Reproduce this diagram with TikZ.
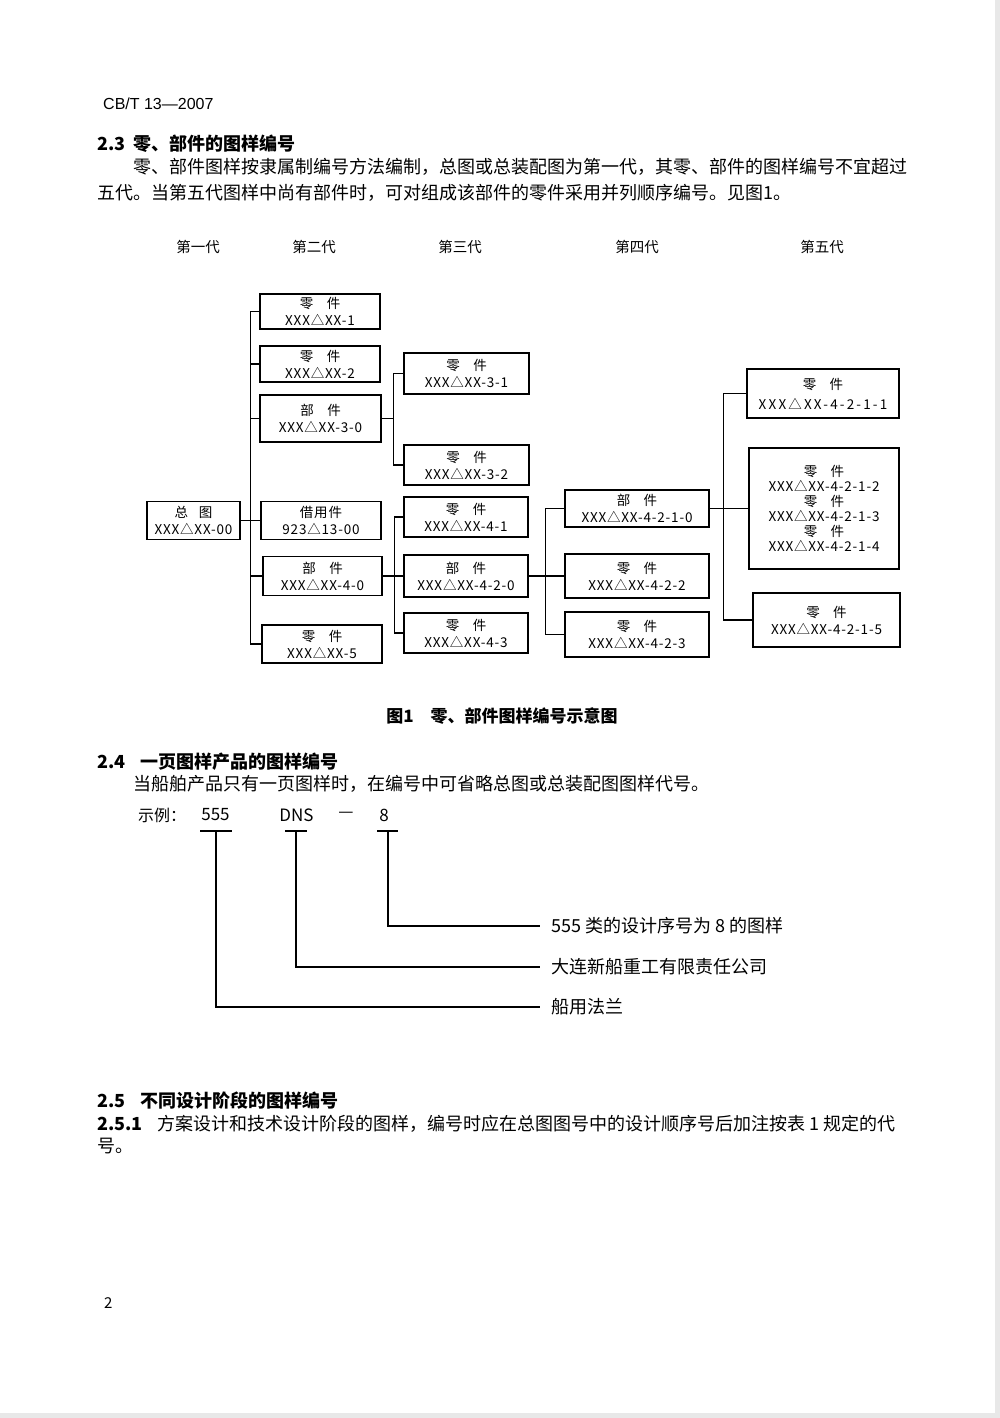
\documentclass[tikz,border=0pt]{standalone}
\usepackage{fontspec}
\setmainfont{Noto Sans CJK SC}
\newfontfamily\kuangfont{Noto Sans CJK SC}[LetterSpace=6]
\newfontfamily\kuanfont{Noto Sans CJK SC}[LetterSpace=16]
\newfontfamily\latinfont{Liberation Sans}

\begin{document}
\begin{tikzpicture}[x = 1pt, y = -1pt, kuang/.style = {draw,line width=1.2pt,align=center,inner sep=0pt,font=\kuangfont\fontsize{13.5}{17}\selectfont},zi/.style = {anchor=west,inner sep=0pt,font=\fontsize{18}{20}\selectfont},dai/.style = {inner sep=0pt,font=\fontsize{14.5}{16}\selectfont},biao/.style = {anchor=west,inner xsep=11pt,inner ysep=0pt,font=\fontsize{18}{20}\selectfont},]
		\useasboundingbox (0,0) rectangle (1000,1418);
		\fill[black!9] (995,0) rectangle (1000,1418);
		\fill[black!9] (0,1413) rectangle (1000,1418);
		
		% page head and 2.3
		\node[zi,font=\latinfont\fontsize{16}{18}\selectfont] (biaohao) at (103,104) {CB/T 13—2007};
		\node[zi,font=\bfseries\fontsize{18}{20}\selectfont] (h23) at (97,144) {2.3};
		\node[zi,font=\bfseries\fontsize{18}{20}\selectfont] (t23) at (133,144) {零、部件的图样编号};
		\node[zi] (p1) at (133,167) {零、部件图样按隶属制编号方法编制，总图或总装配图为第一代，其零、部件的图样编号不宜超过};
		\node[zi] (p2) at (97,193) {五代。当第五代图样中尚有部件时，可对组成该部件的零件采用并列顺序编号。见图1。};
		
		\node[dai] (d1) at (198,247) {第一代};
		\node[dai] (d2) at (314,247) {第二代};
		\node[dai] (d3) at (460,247) {第三代};
		\node[dai] (d4) at (637,247) {第四代};
		\node[dai] (d5) at (822,247) {第五代};
		
		\node[kuang,minimum width=93pt,minimum height=38pt] (zongtu) at (193.5,520.5) {总\hspace{0.8em}图\\XXX△XX-00};
		\node[kuang,minimum width=120pt,minimum height=35pt] (l1) at (320,311.5) {零\hspace{1em}件\\XXX△XX-1};
		\node[kuang,minimum width=120pt,minimum height=36pt] (l2) at (320,364) {零\hspace{1em}件\\XXX△XX-2};
		\node[kuang,minimum width=121pt,minimum height=47pt] (b30) at (320.5,418.5) {部\hspace{1em}件\\XXX△XX-3-0};
		\node[kuang,minimum width=120pt,minimum height=38pt] (jy) at (321,520.5) {借用件\\923△13-00};
		\node[kuang,minimum width=119pt,minimum height=39pt] (b40) at (322.5,576) {部\hspace{1em}件\\XXX△XX-4-0};
		\node[kuang,minimum width=120pt,minimum height=38pt] (l5) at (322,644) {零\hspace{1em}件\\XXX△XX-5};
		
		\node[kuang,minimum width=125pt,minimum height=41pt] (l31) at (466.5,373.5) {零\hspace{1em}件\\XXX△XX-3-1};
		\node[kuang,minimum width=125pt,minimum height=40pt] (l32) at (466.5,465) {零\hspace{1em}件\\XXX△XX-3-2};
		\node[kuang,minimum width=124pt,minimum height=40pt] (l41) at (466,517) {零\hspace{1em}件\\XXX△XX-4-1};
		\node[kuang,minimum width=124pt,minimum height=42pt] (b420) at (466,576) {部\hspace{1em}件\\XXX△XX-4-2-0};
		\node[kuang,minimum width=124pt,minimum height=40pt] (l43) at (466,633) {零\hspace{1em}件\\XXX△XX-4-3};
		
		\node[kuang,minimum width=144pt,minimum height=37pt] (b4210) at (637,508.5) {部\hspace{1em}件\\XXX△XX-4-2-1-0};
		\node[kuang,minimum width=144pt,minimum height=44pt] (l422) at (637,576) {零\hspace{1em}件\\XXX△XX-4-2-2};
		\node[kuang,minimum width=144pt,minimum height=45pt] (l423) at (637,634.5) {零\hspace{1em}件\\XXX△XX-4-2-3};
		
		\node[kuang,minimum width=152pt,minimum height=49pt,font=\kuanfont\fontsize{13.5}{17}\selectfont] (l4211) at (823,393.5) {零\hspace{1em}件\\[3pt]XXX△XX-4-2-1-1};
		\node[kuang,minimum width=150pt,minimum height=121pt,font=\kuangfont\fontsize{13.5}{15}\selectfont] (l4212) at (824,508.5) {零\hspace{1em}件\\XXX△XX-4-2-1-2\\零\hspace{1em}件\\XXX△XX-4-2-1-3\\零\hspace{1em}件\\XXX△XX-4-2-1-4};
		\node[kuang,minimum width=147pt,minimum height=54pt] (l4215) at (826.5,620) {零\hspace{1em}件\\XXX△XX-4-2-1-5};
		
		\draw[line width=1.2pt] (zongtu.east) -- ++(10,0) |- (l1.west);
		\draw[line width=1.2pt] (zongtu.east) -- ++(10,0) |- (l2.west);
		\draw[line width=1.2pt] (zongtu.east) -- ++(10,0) |- (b30.west);
		\draw[line width=1.2pt] (zongtu.east) -- (jy.west);
		\draw[line width=1.2pt] (zongtu.east) -- ++(10,0) |- (b40.west);
		\draw[line width=1.2pt] (zongtu.east) -- ++(10,0) |- (l5.west);
		\draw[line width=1.2pt] (b30.east) -- ++(12,0) |- (l31.west);
		\draw[line width=1.2pt] (b30.east) -- ++(12,0) |- (l32.west);
		\draw[line width=1.2pt] (b40.east) -- ++(12,0) |- (l41.west);
		\draw[line width=1.2pt] (b40.east) -- (b420.west);
		\draw[line width=1.2pt] (b40.east) -- ++(12,0) |- (l43.west);
		\draw[line width=1.2pt] (b420.east) -- ++(17,0) |- (b4210.west);
		\draw[line width=1.2pt] (b420.east) -- (l422.west);
		\draw[line width=1.2pt] (b420.east) -- ++(17,0) |- (l423.west);
		\draw[line width=1.2pt] (b4210.east) -- ++(14,0) |- (l4211.west);
		\draw[line width=1.2pt] (b4210.east) -- (l4212.west);
		\draw[line width=1.2pt] (b4210.east) -- ++(14,0) |- (l4215.west);
		
		\node[font=\bfseries\fontsize{17}{19}\selectfont] (tu1) at (502,716) {图1\hspace{1em}零、部件图样编号示意图};
		
		% 2.4
		\node[zi,font=\bfseries\fontsize{18}{20}\selectfont] (h24) at (97,762) {2.4};
		\node[zi,font=\bfseries\fontsize{18}{20}\selectfont] (t24) at (140,762) {一页图样产品的图样编号};
		\node[zi] (p3) at (133,784) {当船舶产品只有一页图样时，在编号中可省略总图或总装配图图样代号。};
		\node[zi,font=\fontsize{16}{18}\selectfont] (shili) at (138,815) {示例：};
		\node[inner sep=0pt,font=\fontsize{17}{19}\selectfont] (n555) at (215.5,815) {555};
		\node[inner sep=0pt,font=\fontsize{17}{19}\selectfont] (ndns) at (296.5,815) {DNS};
		\node[inner sep=0pt,font=\fontsize{17}{19}\selectfont] (nhx) at (346,815) {—};
		\node[inner sep=0pt,font=\fontsize{17}{19}\selectfont] (n8) at (384,815) {8};
		\coordinate (x555) at (216,831);
		\coordinate (xdns) at (296,831);
		\coordinate (x8) at (388,831);
		\draw[line width=1.2pt] ([xshift=-16]x555) -- ([xshift=16]x555);
		\draw[line width=1.2pt] ([xshift=-11]xdns) -- ([xshift=11]xdns);
		\draw[line width=1.2pt] ([xshift=-11]x8) -- ([xshift=10]x8);
		\node[biao] (s8) at (540,926) {555 类的设计序号为 8 的图样};
		\node[biao] (sdns) at (540,967) {大连新船重工有限责任公司};
		\node[biao] (s555) at (540,1007) {船用法兰};
		\draw[line width=1.2pt] (x8) |- (s8.west);
		\draw[line width=1.2pt] (xdns) |- (sdns.west);
		\draw[line width=1.2pt] (x555) |- (s555.west);
		
		% 2.5
		\node[zi,font=\bfseries\fontsize{18}{20}\selectfont] (h25) at (97,1101) {2.5};
		\node[zi,font=\bfseries\fontsize{18}{20}\selectfont] (t25) at (140,1101) {不同设计阶段的图样编号};
		\node[zi,font=\bfseries\fontsize{18}{20}\selectfont] (h251) at (97,1124) {2.5.1};
		\node[zi] (p4) at (157,1124) {方案设计和技术设计阶段的图样，编号时应在总图图号中的设计顺序号后加注按表 1 规定的代};
		\node[zi] (p5) at (97,1146) {号。};
		
		\node[zi,font=\fontsize{15}{17}\selectfont] (yema) at (104,1303) {2};
	\end{tikzpicture}
\end{document}
